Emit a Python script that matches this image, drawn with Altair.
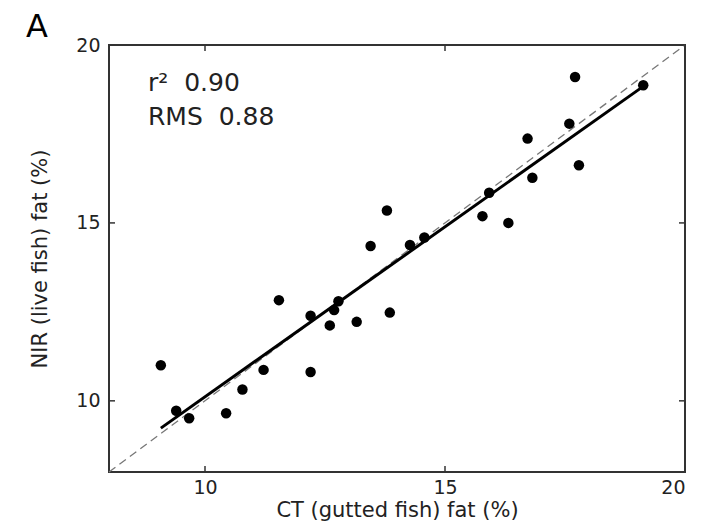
import altair as alt
import pandas as pd

# CT (gutted fish) fat % and NIR (live fish) fat %
ct = [9.08, 9.40, 9.67, 10.44, 10.78, 11.22, 11.54, 12.20, 12.20, 12.60, 12.69,
      12.78, 13.16, 13.85, 13.79, 13.45, 14.27, 14.57, 15.78, 15.92, 16.32,
      16.82, 16.72, 17.59, 17.71, 17.79, 19.13]
nir = [11.00, 9.72, 9.51, 9.65, 10.32, 10.87, 12.83, 12.39, 10.81, 12.12, 12.55,
       12.80, 12.22, 12.48, 15.35, 14.35, 14.38, 14.59, 15.19, 15.85, 15.00,
       16.27, 17.37, 17.79, 19.10, 16.62, 18.87]
axis_range = [8, 20]
tick_values = [10, 15, 20]
r2_text = "r\u00b2\u00a0\u00a00.90"
rms_text = "RMS\u00a0\u00a00.88"
panel_label = "A"

W, H = 576, 427
FONT = "DejaVu Sans"

pts = pd.DataFrame({"ct": ct, "nir": nir})
ident = pd.DataFrame({"ct": axis_range, "nir": axis_range})
ticks = pd.DataFrame({"v": tick_values})

xs = alt.Scale(domain=axis_range, nice=False, zero=False)
ys = alt.Scale(domain=axis_range, nice=False, zero=False)

xenc = alt.X("ct:Q", scale=xs, axis=alt.Axis(values=tick_values, title="CT (gutted fish) fat (%)",
                                               labelPadding=6, titlePadding=2))
yenc = alt.Y("nir:Q", scale=ys, axis=alt.Axis(values=tick_values, title="NIR (live fish) fat (%)",
                                                labelPadding=9, titlePadding=25))

identity = alt.Chart(ident).mark_line(color="#777777", strokeDash=[8, 5], strokeWidth=1.3).encode(
    x=xenc, y=yenc)

fit = alt.Chart(pts).transform_regression("ct", "nir").mark_line(
    color="black", strokeWidth=3).encode(x=alt.X("ct:Q", scale=xs), y=alt.Y("nir:Q", scale=ys))

dots = alt.Chart(pts).mark_circle(color="black", opacity=1, size=110).encode(
    x=alt.X("ct:Q", scale=xs), y=alt.Y("nir:Q", scale=ys))

tb = alt.Chart(ticks)
tick_bottom = tb.mark_rule(color="#333333", strokeWidth=1.5).encode(
    x=alt.X("v:Q", scale=xs), y=alt.value(H), y2=alt.value(H - 6))
tick_top = tb.mark_rule(color="#333333", strokeWidth=1.5).encode(
    x=alt.X("v:Q", scale=xs), y=alt.value(0), y2=alt.value(6))
tick_left = tb.mark_rule(color="#333333", strokeWidth=1.5).encode(
    y=alt.Y("v:Q", scale=ys), x=alt.value(0), x2=alt.value(6))
tick_right = tb.mark_rule(color="#333333", strokeWidth=1.5).encode(
    y=alt.Y("v:Q", scale=ys), x=alt.value(W), x2=alt.value(W - 6))

r2 = alt.Chart(pd.DataFrame({"t": [r2_text]})).mark_text(
    align="left", baseline="middle", font=FONT, fontSize=25, color="#222222").encode(
    text="t:N", x=alt.value(39), y=alt.value(38))
rms = alt.Chart(pd.DataFrame({"t": [rms_text]})).mark_text(
    align="left", baseline="middle", font=FONT, fontSize=25, color="#222222").encode(
    text="t:N", x=alt.value(39), y=alt.value(72))

label = alt.Chart(pd.DataFrame({"t": [panel_label]})).mark_text(
    align="center", baseline="middle", font=FONT, fontSize=32, color="black").encode(
    text="t:N", x=alt.value(-72), y=alt.value(-18))

chart = alt.layer(identity, fit, dots, tick_bottom, tick_top, tick_left, tick_right, r2, rms, label).properties(
    width=W, height=H,
    autosize=alt.AutoSizeParams(type="none"),
    padding={"left": 101, "top": 37, "right": 10, "bottom": 51},
).configure_view(
    stroke="#333333", strokeWidth=2
).configure_axis(
    domain=False, ticks=False, grid=False,
    labelFont=FONT, labelFontSize=19, labelColor="#222222",
    titleFont=FONT, titleFontSize=21, titleFontWeight="normal", titleColor="#222222",
)

chart.save("out.html", embed_options={"renderer": "svg", "actions": False})
